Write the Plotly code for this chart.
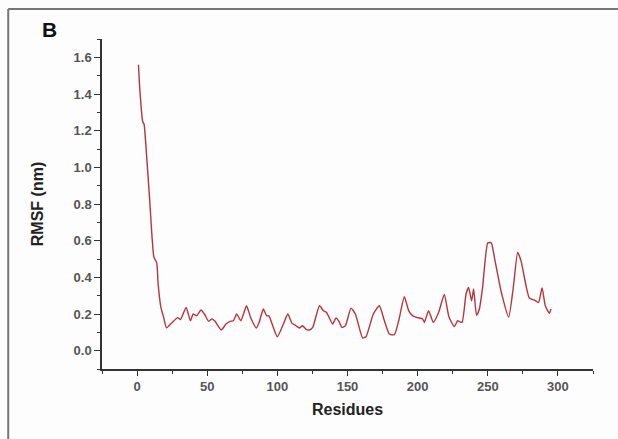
import plotly.graph_objects as go

# RMSF per residue (nm)
residues = [1, 2, 4, 5, 6, 9, 12, 14, 15, 17, 19, 21, 25, 29, 31, 35, 38, 40, 42.5, 45.6, 48,
            51, 53.4, 55.6, 60, 63.4, 66.3, 68.6, 71, 74, 78, 81, 85, 87, 90, 92.4, 94, 96.7,
            100, 104.3, 107.4, 110.5, 113.3, 115.7, 118, 120.5, 122.8, 125.2, 130, 132.8, 135,
            139.4, 141.8, 143.7, 146, 148.5, 152.5, 155.6, 160.8, 163.2, 168.4, 172.7, 176.3,
            179.8, 183.4, 186.5, 190.5, 193.6, 196.5, 200, 203.6, 204.8, 207.8, 211.2, 215,
            219, 222.3, 226.2, 228.5, 231.6, 234.5, 236.3, 238.5, 239.9, 242, 244, 246.3, 250,
            252.5, 254.7, 259.4, 264.9, 268.2, 271.3, 273.7, 276.8, 279.6, 283.2, 286.2, 288.7,
            291, 293.9, 295]
rmsf = [1.56, 1.42, 1.25, 1.235, 1.15, 0.82, 0.51, 0.48, 0.365, 0.236, 0.18, 0.124, 0.154,
        0.18, 0.17, 0.236, 0.163, 0.2, 0.19, 0.222, 0.2, 0.16, 0.173, 0.16, 0.113, 0.145, 0.16,
        0.163, 0.2, 0.163, 0.245, 0.18, 0.124, 0.154, 0.227, 0.19, 0.19, 0.136, 0.076, 0.145,
        0.2, 0.149, 0.136, 0.124, 0.136, 0.116, 0.113, 0.127, 0.245, 0.218, 0.209, 0.145,
        0.178, 0.163, 0.127, 0.136, 0.232, 0.2, 0.069, 0.076, 0.2, 0.245, 0.163, 0.091, 0.087,
        0.163, 0.294, 0.218, 0.19, 0.18, 0.173, 0.154, 0.218, 0.154, 0.209, 0.307, 0.185,
        0.131, 0.163, 0.154, 0.309, 0.345, 0.272, 0.336, 0.193, 0.227, 0.345, 0.588, 0.588,
        0.509, 0.327, 0.183, 0.345, 0.536, 0.49, 0.372, 0.287, 0.276, 0.263, 0.342, 0.245,
        0.204, 0.227]

x_ticks = [0, 50, 100, 150, 200, 250, 300]
y_ticks = [0.0, 0.2, 0.4, 0.6, 0.8, 1.0, 1.2, 1.4, 1.6]

font_family = "Arial, Liberation Sans, sans-serif"
tick_font = dict(family=font_family, size=13, color="#555555", weight="bold")
title_font = dict(family=font_family, size=16, color="#222222", weight="bold")

fig = go.Figure()
fig.add_trace(go.Scatter(
    x=residues, y=rmsf, mode="lines",
    line=dict(color="#b8343d", width=1.4, shape="spline", smoothing=0.5),
    showlegend=False,
))

axis_common = dict(
    showline=True, linecolor="#333333", linewidth=1.5,
    ticks="outside", tickcolor="#333333", tickwidth=1.3,
    showgrid=False, zeroline=False, mirror=False,
)

fig.update_xaxes(
    range=[-25, 325], tickvals=x_ticks, ticktext=[str(t) for t in x_ticks],
    ticklen=5, tickfont=tick_font,
    minor=dict(tickvals=[-25, 25, 75, 125, 175, 225, 275, 325], ticks="outside",
               ticklen=3, tickcolor="#333333", tickwidth=1.3),
    title=dict(text="Residues", font=title_font, standoff=10),
    **axis_common,
)
fig.update_yaxes(
    range=[-0.1, 1.7], tickvals=y_ticks, ticktext=[f"{t:.1f}" for t in y_ticks],
    ticklen=6, tickfont=tick_font,
    minor=dict(tickvals=[-0.1, 0.1, 0.3, 0.5, 0.7, 0.9, 1.1, 1.3, 1.5, 1.7], ticks="outside",
               ticklen=3, tickcolor="#333333", tickwidth=1.3),
    title=dict(text="RMSF (nm)", font=title_font, standoff=26),
    **axis_common,
)

# Panel frame (top and left edges) and panel letter
frame = dict(type="line", xref="paper", yref="paper", line=dict(color="#777777", width=2))
fig.add_shape(x0=-0.191, x1=1.06, y0=1.091, y1=1.091, **frame)
fig.add_shape(x0=-0.191, x1=-0.191, y0=1.091, y1=-0.22, **frame)
fig.add_annotation(
    text="B", xref="paper", yref="paper", x=-0.127, y=1.029,
    xanchor="left", yanchor="middle", showarrow=False,
    font=dict(family=font_family, size=21, color="#111111", weight="bold"),
)

fig.update_layout(
    width=618, height=439,
    margin=dict(l=102, r=25, t=39, b=70),
    paper_bgcolor="#fdfdfd", plot_bgcolor="#fdfdfd",
)

fig.write_html("out.html")
